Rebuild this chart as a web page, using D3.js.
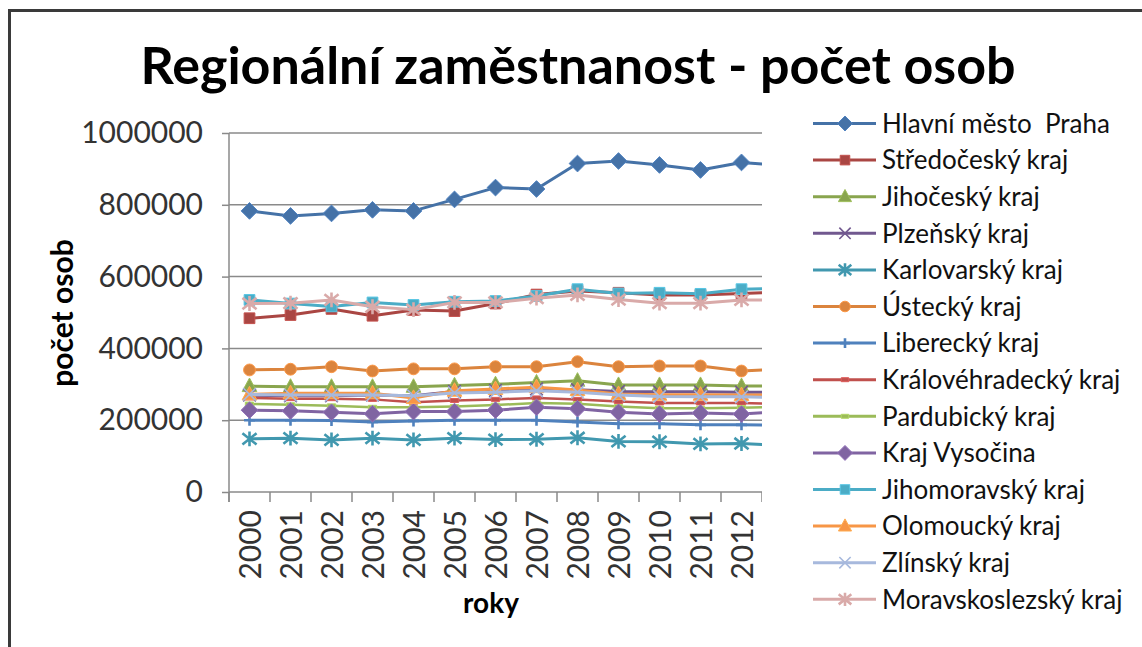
<!DOCTYPE html>
<html>
<head>
<meta charset="utf-8">
<script src="https://cdn.jsdelivr.net/npm/d3@7"></script>
<style>
  html, body { margin: 0; padding: 0; background: #fff; }
  svg { display: block; }
  text { font-family: Lato, "Open Sans", "DejaVu Sans", sans-serif; }
</style>
</head>
<body>
<svg id="chart" width="1142" height="647"></svg>
<script>
// Employed persons by region (počet osob), yearly
const years = ["2000","2001","2002","2003","2004","2005","2006","2007","2008","2009","2010","2011","2012","2013"];

const praha           = [783000, 769000, 776000, 786000, 783000, 815000, 848000, 844000, 915000, 922000, 911000, 897000, 918000, 909000];
const stredocesky     = [484000, 493000, 510000, 491000, 507000, 504000, 525000, 550000, 560000, 555000, 549000, 549000, 553000, 557000];
const jihocesky       = [295000, 293000, 293000, 293000, 293000, 297000, 300000, 305000, 310000, 298000, 298000, 298000, 295000, 295000];
const plzensky        = [270000, 268000, 268000, 270000, 268000, 280000, 283000, 287000, 285000, 280000, 279000, 279000, 278000, 278000];
const karlovarsky     = [148000, 150000, 145000, 150000, 145000, 150000, 146000, 147000, 151000, 141000, 140000, 134000, 135000, 130000];
const ustecky         = [340000, 342000, 349000, 337000, 343000, 343000, 349000, 349000, 363000, 349000, 351000, 351000, 337000, 343000];
const liberecky       = [200000, 200000, 199000, 195000, 198000, 200000, 200000, 200000, 195000, 190000, 190000, 187000, 187000, 186000];
const kralovehradecky = [262000, 260000, 260000, 258000, 250000, 255000, 258000, 262000, 258000, 252000, 248000, 248000, 248000, 245000];
const pardubicky      = [245000, 243000, 240000, 236000, 236000, 238000, 242000, 248000, 246000, 238000, 233000, 233000, 235000, 237000];
const vysocina        = [228000, 226000, 222000, 218000, 224000, 224000, 228000, 236000, 232000, 222000, 217000, 220000, 217000, 224000];
const jihomoravsky    = [535000, 525000, 517000, 528000, 521000, 530000, 532000, 546000, 565000, 553000, 555000, 552000, 565000, 568000];
const olomoucky       = [272000, 275000, 275000, 275000, 262000, 282000, 287000, 292000, 284000, 273000, 271000, 271000, 270000, 270000];
const zlinsky         = [272000, 270000, 270000, 270000, 268000, 276000, 278000, 282000, 278000, 270000, 266000, 265000, 265000, 263000];
const moravskoslezsky = [525000, 526000, 535000, 516000, 508000, 528000, 528000, 540000, 549000, 536000, 526000, 526000, 535000, 535000];

const regionNames = ["Hlavní město  Praha", "Středočeský kraj", "Jihočeský kraj", "Plzeňský kraj",
  "Karlovarský kraj", "Ústecký kraj", "Liberecký kraj", "Královéhradecký kraj", "Pardubický kraj",
  "Kraj Vysočina", "Jihomoravský kraj", "Olomoucký kraj", "Zlínský kraj", "Moravskoslezský kraj"];
const regionColors = ["#4572A7", "#AA4643", "#89A54E", "#71588F", "#4198AF", "#DB843D", "#4F81BD",
  "#C0504D", "#9BBB59", "#8064A2", "#4BACC6", "#F79646", "#A7B9DD", "#D9AAA9"];
const regionMarkers = ["diamond", "square", "triangle", "times", "asterisk", "circle", "plus",
  "dash", "dash", "diamond", "square", "triangle", "times", "asterisk"];

const yTicks = [0, 200000, 400000, 600000, 800000, 1000000];

const chartTitle = "Regionální zaměstnanost - počet osob";
const yTitle = "počet osob";
const xTitle = "roky";

// ---- layout ----
const W = 1142, H = 647;
const plotLeft = 229, plotRight = 762, plotTop = 133, plotBottom = 492;
const visibleYears = 13;
const band = (plotRight - plotLeft) / visibleYears;

const svg = d3.select("#chart");

// chart frame
svg.append("rect").attr("x", 9.5).attr("y", 10.5).attr("width", W + 20).attr("height", H + 20)
  .attr("fill", "#fff").attr("stroke", "#3a3a3a").attr("stroke-width", 3);

const x = d3.scaleBand().domain(years).range([plotLeft, plotLeft + band * years.length]).padding(0);
const y = d3.scaleLinear().domain([0, 1000000]).range([plotBottom, plotTop]);

svg.append("defs").append("clipPath").attr("id", "plotClip")
  .append("rect").attr("x", plotLeft - 12).attr("y", plotTop - 20)
  .attr("width", plotRight - plotLeft + 12).attr("height", plotBottom - plotTop + 40);

// gridlines
const grid = svg.append("g").attr("clip-path", "url(#plotClip)");
grid.selectAll("line").data(yTicks.filter(d => d > 0)).join("line")
  .attr("x1", plotLeft).attr("x2", plotRight)
  .attr("y1", d => y(d)).attr("y2", d => y(d))
  .attr("stroke", "#8a8a8a").attr("stroke-width", 1.5);

// y axis
const yAxis = svg.append("g").attr("transform", `translate(${plotLeft},0)`)
  .call(d3.axisLeft(y).tickValues(yTicks).tickSize(7).tickPadding(19).tickFormat(d3.format("d")));
yAxis.select(".domain").remove();
yAxis.append("line").attr("x1", 0).attr("x2", 0).attr("y1", plotTop).attr("y2", plotBottom + 10)
  .attr("stroke", "#8a8a8a").attr("stroke-width", 1.5);
yAxis.selectAll(".tick line").attr("stroke", "#8a8a8a").attr("stroke-width", 1.5);
yAxis.selectAll(".tick text").attr("fill", "#333").style("font-size", "30px")
  .style("font-family", "Lato, sans-serif");

// x axis (category boundaries carry the ticks)
const xAxisG = svg.append("g").attr("clip-path", "url(#plotClip)");
xAxisG.append("line").attr("x1", plotLeft).attr("x2", plotLeft + band * years.length)
  .attr("y1", plotBottom).attr("y2", plotBottom).attr("stroke", "#8a8a8a").attr("stroke-width", 1.5);
const boundaries = years.map(d => x(d)).concat([x(years[years.length - 1]) + x.bandwidth()]);
xAxisG.selectAll("line.xt").data(boundaries).join("line").attr("class", "xt")
  .attr("x1", d => d).attr("x2", d => d).attr("y1", plotBottom).attr("y2", plotBottom + 10)
  .attr("stroke", "#8a8a8a").attr("stroke-width", 1.5);
svg.append("g").selectAll("text").data(years).join("text")
  .attr("transform", d => `translate(${x(d) + x.bandwidth() / 2 + 1},${plotBottom + 18}) rotate(-90)`)
  .attr("text-anchor", "end").attr("dy", "0.36em")
  .attr("fill", "#333").style("font-size", "30px")
  .text(d => d);

// marker shapes
const symbolTypes = {
  diamond: { draw(ctx, size) { const r = Math.sqrt(size / 2); ctx.moveTo(0, -r); ctx.lineTo(r, 0); ctx.lineTo(0, r); ctx.lineTo(-r, 0); ctx.closePath(); } },
  square: d3.symbolSquare,
  triangle: { draw(ctx, size) { const r = Math.sqrt(size) * 0.62; ctx.moveTo(0, -r * 1.1); ctx.lineTo(r, r * 0.75); ctx.lineTo(-r, r * 0.75); ctx.closePath(); } },
  circle: d3.symbolCircle,
  times: { draw(ctx, size) { const r = Math.sqrt(size) / 2; ctx.moveTo(-r, -r); ctx.lineTo(r, r); ctx.moveTo(-r, r); ctx.lineTo(r, -r); } },
  asterisk: { draw(ctx, size) { const r = Math.sqrt(size) / 2; ctx.moveTo(-r, -r * 0.8); ctx.lineTo(r, r * 0.8); ctx.moveTo(-r, r * 0.8); ctx.lineTo(r, -r * 0.8); ctx.moveTo(0, -r * 1.05); ctx.lineTo(0, r * 1.05); } },
  plus: { draw(ctx, size) { const r = Math.sqrt(size) / 2; ctx.moveTo(0, -r); ctx.lineTo(0, r); ctx.moveTo(-r, 0); ctx.lineTo(r, 0); } },
  dash: { draw(ctx, size) { const w = Math.sqrt(size) / 2; ctx.moveTo(-w, -2); ctx.lineTo(w, -2); ctx.lineTo(w, 2); ctx.lineTo(-w, 2); ctx.closePath(); } }
};
const markerSize = { diamond: 140, square: 115, triangle: 140, circle: 110, times: 160, asterisk: 200, plus: 120, dash: 70 };
const strokeMarkers = new Set(["times", "asterisk", "plus"]);

function styleMarker(sel, kind, color) {
  if (strokeMarkers.has(kind)) {
    sel.attr("fill", "none").attr("stroke", color).attr("stroke-width", kind === "times" ? 1.6 : 2.6);
  } else {
    sel.attr("fill", color).attr("stroke", d3.color(color).brighter(0.4)).attr("stroke-width", 1);
  }
}

const series = [praha, stredocesky, jihocesky, plzensky, karlovarsky, ustecky, liberecky,
  kralovehradecky, pardubicky, vysocina, jihomoravsky, olomoucky, zlinsky, moravskoslezsky]
  .map((values, i) => ({ name: regionNames[i], color: regionColors[i], marker: regionMarkers[i], values }));

const line = d3.line().x((d, i) => x(years[i]) + x.bandwidth() / 2).y(d => y(d));

const plot = svg.append("g").attr("clip-path", "url(#plotClip)");
series.forEach(s => {
  const g = plot.append("g");
  g.append("path").attr("d", line(s.values)).attr("fill", "none")
    .attr("stroke", s.color).attr("stroke-width", s.marker === "dash" ? 2.5 : 3).attr("stroke-linejoin", "round");
  const sym = d3.symbol().type(symbolTypes[s.marker]).size(markerSize[s.marker]);
  g.selectAll("path.m").data(s.values).join("path").attr("class", "m")
    .attr("transform", (d, i) => `translate(${x(years[i]) + x.bandwidth() / 2},${y(d)})`)
    .attr("d", sym)
    .call(styleMarker, s.marker, s.color);
});

// legend (sits over the right edge of the plot)
const legend = svg.append("g");
legend.append("rect").attr("x", plotRight + 1).attr("y", 100).attr("width", 372).attr("height", 530).attr("fill", "#fff");
const rowY = i => 123.5 + i * 36.6;
series.forEach((s, i) => {
  const g = legend.append("g").attr("transform", `translate(0,${rowY(i)})`);
  g.append("line").attr("x1", 813).attr("x2", 876).attr("y1", 0).attr("y2", 0)
    .attr("stroke", s.color).attr("stroke-width", 3);
  g.append("path").attr("transform", "translate(845,0)")
    .attr("d", d3.symbol().type(symbolTypes[s.marker]).size(markerSize[s.marker] * 0.8)())
    .call(styleMarker, s.marker, s.color);
  g.append("text").attr("x", 882).attr("dy", "0.36em").attr("fill", "#111")
    .style("font-size", "26px").style("white-space", "pre").text(s.name);
});

// titles
svg.append("text").attr("x", 578).attr("y", 84).attr("text-anchor", "middle")
  .attr("fill", "#000").style("font-size", "52px").style("font-weight", "bold").text(chartTitle);
svg.append("text").attr("transform", "translate(73,313) rotate(-90)").attr("text-anchor", "middle")
  .attr("fill", "#000").style("font-size", "30px").style("font-weight", "bold").text(yTitle);
svg.append("text").attr("x", 491).attr("y", 613).attr("text-anchor", "middle")
  .attr("fill", "#000").style("font-size", "28px").style("font-weight", "bold").text(xTitle);
</script>
</body>
</html>
